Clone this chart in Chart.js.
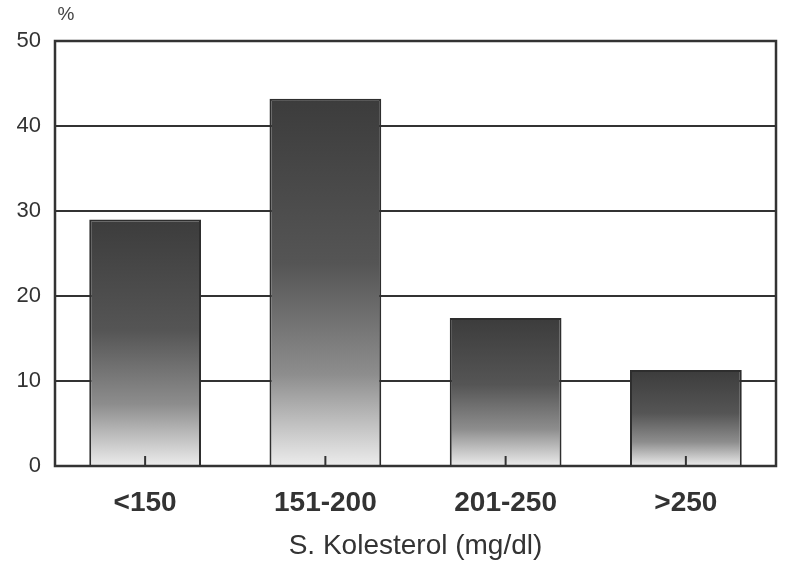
<!DOCTYPE html>
<html>
<head>
<meta charset="utf-8">
<script src="https://cdn.jsdelivr.net/npm/chart.js@4"></script>
<style>
  body { margin: 0; background: #fff; }
  #wrap { width: 808px; height: 573px; }
</style>
</head>
<body>
<div id="wrap"><canvas id="kol-chart" width="808" height="573"></canvas></div>
<script>
// values
const categories = ['<150', '151-200', '201-250', '>250'];
const percents = [29, 43.2, 17.4, 11.3];
const yTicks = [0, 10, 20, 30, 40, 50];

function barFill(ctx) {
    let chart = ctx.chart;
    let y = chart.scales.y;
    if (!chart.chartArea || !y || ctx.parsed == null) return '#555';
    let top = y.getPixelForValue(ctx.parsed.y);
    let bottom = y.getPixelForValue(0);
    let g = chart.ctx.createLinearGradient(0, top, 0, bottom);
    g.addColorStop(0, '#3c3c3c');
    g.addColorStop(0.45, '#555555');
    g.addColorStop(0.75, '#8d8d8d');
    g.addColorStop(1, '#ececec');
    return g;
}

// frame round the plot + small ticks at the category centres
const framePlugin = {
    id: 'frame',
    afterDatasetsDraw(chart) {
        let c = chart.ctx;
        let a = chart.chartArea;
        let x = chart.scales.x;
        c.save();
        c.strokeStyle = '#333';
        c.lineWidth = 2.5;
        c.strokeRect(a.left, a.top, a.right - a.left, a.bottom - a.top);
        c.lineWidth = 2;
        categories.forEach((cat, i) => {
            let px = x.getPixelForTick(i);
            c.beginPath();
            c.moveTo(px, a.bottom);
            c.lineTo(px, a.bottom - 10);
            c.stroke();
        });
        c.fillStyle = '#444';
        c.font = '19px "Liberation Sans", Arial';
        c.textAlign = 'center';
        c.fillText('%', 66, 20);
        c.restore();
    }
};

let ctx = document.getElementById('kol-chart').getContext('2d');

let kolChart = new Chart(ctx, {
    type: 'bar',
    data: {
        labels: categories,
        datasets: [{
            label: 'S. Kolesterol',
            data: percents,
            backgroundColor: barFill,
            borderColor: '#2e2e2e',
            borderWidth: 2,
            barPercentage: 0.62,
            categoryPercentage: 1
        }]
    },
    options: {
        responsive: false,
        animation: false,
        layout: { padding: { top: 41, right: 32, left: 0, bottom: 0 } },
        plugins: { legend: { display: false }, tooltip: { enabled: false } },
        scales: {
            x: {
                grid: { display: false },
                border: { display: false },
                ticks: {
                    color: '#333',
                    padding: 12,
                    font: { family: '"Liberation Sans", Arial', size: 28, weight: 'bold' }
                },
                title: {
                    display: true,
                    text: 'S. Kolesterol (mg/dl)',
                    color: '#333',
                    padding: { top: 0, bottom: 10 },
                    font: { family: '"Liberation Sans", Arial', size: 28 }
                },
                afterFit(s) { s.height = 107; }
            },
            y: {
                min: 0,
                max: 50,
                afterBuildTicks(s) { s.ticks = yTicks.map(v => ({ value: v })); },
                grid: { color: '#333', lineWidth: 2, drawTicks: false },
                border: { display: false },
                ticks: {
                    color: '#333',
                    padding: 14,
                    font: { family: '"Liberation Sans", Arial', size: 22 }
                },
                afterFit(s) { s.width = 55; }
            }
        }
    },
    plugins: [framePlugin]
});
</script>
</body>
</html>
